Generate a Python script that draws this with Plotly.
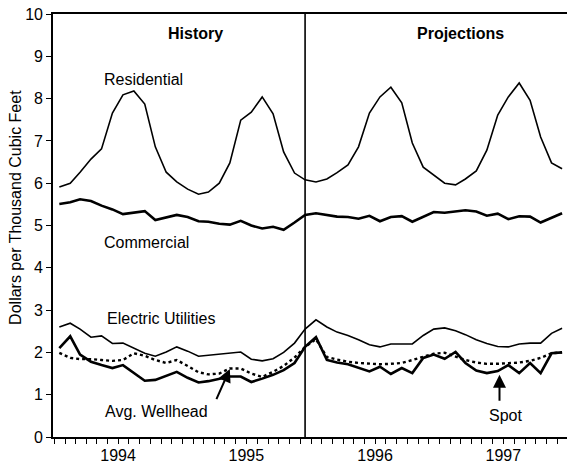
import plotly.graph_objects as go

# Monthly observations, Jan 1994 - Dec 1997 (history through Dec 1995)
years = [1994, 1995, 1996, 1997]
months = [f"{y}-{m:02d}-15" for y in years for m in range(1, 13)]

residential = [5.91, 6.00, 6.26, 6.57, 6.81, 7.66, 8.09, 8.18, 7.87, 6.86, 6.26, 6.03,
               5.86, 5.74, 5.79, 6.00, 6.48, 7.49, 7.68, 8.04, 7.64, 6.74, 6.24, 6.08,
               6.03, 6.10, 6.25, 6.43, 6.86, 7.66, 8.04, 8.27, 7.90, 6.95, 6.38, 6.19,
               6.00, 5.96, 6.10, 6.29, 6.78, 7.61, 8.04, 8.37, 7.96, 7.09, 6.48, 6.34]

commercial = [5.51, 5.55, 5.62, 5.58, 5.47, 5.38, 5.27, 5.30, 5.34, 5.13, 5.20, 5.25,
              5.20, 5.10, 5.09, 5.04, 5.02, 5.11, 5.00, 4.93, 4.97, 4.90, 5.07, 5.25,
              5.29, 5.24, 5.21, 5.20, 5.16, 5.23, 5.10, 5.20, 5.22, 5.09, 5.20, 5.32,
              5.30, 5.34, 5.36, 5.33, 5.23, 5.28, 5.15, 5.22, 5.21, 5.07, 5.18, 5.29]

electric = [2.60, 2.69, 2.55, 2.36, 2.39, 2.21, 2.22, 2.10, 1.98, 1.91, 2.01, 2.13,
            2.03, 1.91, 1.93, 1.97, 1.99, 2.01, 1.84, 1.80, 1.85, 2.00, 2.22, 2.55,
            2.77, 2.60, 2.48, 2.40, 2.30, 2.18, 2.13, 2.20, 2.20, 2.20, 2.40, 2.55,
            2.58, 2.51, 2.42, 2.30, 2.21, 2.14, 2.13, 2.20, 2.22, 2.22, 2.45, 2.57]

spot = [2.10, 2.38, 1.95, 1.78, 1.70, 1.63, 1.70, 1.52, 1.33, 1.35, 1.44, 1.54,
        1.40, 1.29, 1.32, 1.38, 1.43, 1.43, 1.30, 1.38, 1.47, 1.58, 1.75, 2.13,
        2.36, 1.82, 1.76, 1.72, 1.63, 1.55, 1.66, 1.49, 1.63, 1.51, 1.87, 1.95,
        1.85, 2.01, 1.75, 1.57, 1.51, 1.56, 1.70, 1.51, 1.75, 1.51, 1.98, 2.00]

wellhead = [1.99, 1.87, 1.84, 1.84, 1.82, 1.80, 1.82, 1.98, 1.92, 1.82, 1.75, 1.82,
            1.68, 1.53, 1.48, 1.50, 1.62, 1.62, 1.50, 1.42, 1.54, 1.68, 1.88, 2.13,
            2.31, 1.89, 1.83, 1.78, 1.75, 1.73, 1.72, 1.73, 1.75, 1.82, 1.89, 1.97,
            1.99, 1.90, 1.82, 1.76, 1.73, 1.73, 1.75, 1.76, 1.80, 1.87, 1.98, 2.00]

year_ticks = ["1994-07-01", "1995-07-01", "1996-07-01", "1997-07-01"]
year_labels = ["1994", "1995", "1996", "1997"]
history_end = "1995-12-15"

FONT = "Liberation Sans, Arial, Helvetica, sans-serif"

fig = go.Figure()
fig.add_trace(go.Scatter(x=months, y=residential, mode="lines",
                         line=dict(color="black", width=1.6), name="Residential"))
fig.add_trace(go.Scatter(x=months, y=commercial, mode="lines",
                         line=dict(color="black", width=2.6), name="Commercial"))
fig.add_trace(go.Scatter(x=months, y=electric, mode="lines",
                         line=dict(color="black", width=1.6), name="Electric Utilities"))
fig.add_trace(go.Scatter(x=months, y=wellhead, mode="lines",
                         line=dict(color="black", width=2.4, dash="dot"), name="Avg. Wellhead"))
fig.add_trace(go.Scatter(x=months, y=spot, mode="lines",
                         line=dict(color="black", width=2.6), name="Spot"))

# History / Projections divider
fig.add_shape(type="line", xref="x", yref="y", x0=history_end, x1=history_end,
              y0=0, y1=10, line=dict(color="black", width=1.6))

def label(text, x, y, size=16, bold=False):
    fig.add_annotation(x=x, y=y, xref="x", yref="y", text=f"<b>{text}</b>" if bold else text,
                       showarrow=False, font=dict(family=FONT, size=size, color="black"),
                       xanchor="center", yanchor="middle")

label("History", "1995-02-07", 9.55, bold=True)
label("Projections", "1997-03-02", 9.55, bold=True)
label("Residential", "1994-09-12", 8.44)
label("Commercial", "1994-09-20", 4.59)
label("Electric Utilities", "1994-10-30", 2.81)
label("Avg. Wellhead", "1994-10-18", 0.61)
label("Spot", "1997-07-06", 0.50)

# arrows
fig.add_annotation(x="1995-05-15", y=1.61, ax="1995-04-05", ay=0.86,
                   xref="x", yref="y", axref="x", ayref="y", text="",
                   showarrow=True, arrowhead=2, arrowsize=1.3, arrowwidth=2, arrowcolor="black")
fig.add_annotation(x="1997-06-20", y=1.47, ax="1997-06-20", ay=0.82,
                   xref="x", yref="y", axref="x", ayref="y", text="",
                   showarrow=True, arrowhead=2, arrowsize=1.3, arrowwidth=2, arrowcolor="black")

# y-axis title
fig.add_annotation(x=-0.072, y=0.544, xref="paper", yref="paper",
                   text="Dollars per Thousand Cubic Feet", textangle=-90, showarrow=False,
                   font=dict(family=FONT, size=16, color="black"),
                   xanchor="center", yanchor="middle")

fig.update_layout(
    width=567, height=463,
    margin=dict(l=53, r=0, t=14, b=26),
    plot_bgcolor="white", paper_bgcolor="white",
    showlegend=False,
    font=dict(family=FONT, size=16, color="black"),
)
fig.update_xaxes(
    type="date", range=["1993-12-28", "1997-12-29"],
    tickmode="array", tickvals=year_ticks, ticktext=year_labels, ticks="",
    tickfont=dict(size=16), ticklabelstandoff=3,
    showline=True, linecolor="black", linewidth=1.6, mirror=True,
    showgrid=False, zeroline=False,
    minor=dict(ticks="outside", ticklen=5, tickwidth=1.2, tickcolor="black",
               dtick="M1", tick0="1994-01-01", showgrid=False),
)
fig.update_yaxes(
    range=[0, 10], dtick=1, tick0=0,
    ticks="outside", ticklen=5, tickwidth=1.2, tickcolor="black",
    showline=True, linecolor="black", linewidth=1.6,
    showgrid=False, zeroline=False,
    tickfont=dict(size=16),
)

fig.write_html("out.html")
